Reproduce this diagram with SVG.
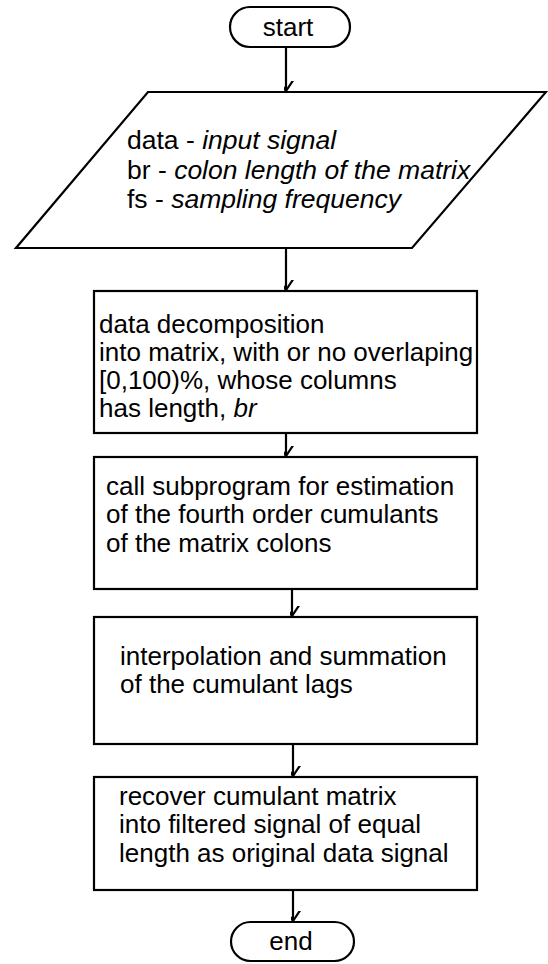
<svg xmlns="http://www.w3.org/2000/svg" width="548" height="964" viewBox="0 0 548 964">
  <defs>
    <marker id="arr" viewBox="-10 -14 20 16" refX="0" refY="0" markerWidth="20" markerHeight="16" markerUnits="userSpaceOnUse" orient="auto">
      <path d="M-8,-12 L0,0 L8,-12" fill="none" stroke="#000" stroke-width="2.2" transform="rotate(-90)"/>
    </marker>
    <style>
      .shape { fill: #fff; stroke: #000; stroke-width: 2.2; }
      .link { fill: none; stroke: #000; stroke-width: 2.2; }
      text { font-family: "Liberation Sans", Arial, sans-serif; font-size: 26px; fill: #000; }
      .c { text-anchor: middle; }
      .i { font-style: italic; }
    </style>
  </defs>
  <rect width="548" height="964" fill="#fff"/>

  <g id="connectors">
    <line class="link" x1="286" y1="47" x2="286" y2="91" marker-end="url(#arr)"/>
    <line class="link" x1="286" y1="248" x2="286" y2="290" marker-end="url(#arr)"/>
    <line class="link" x1="286" y1="433" x2="286" y2="456" marker-end="url(#arr)"/>
    <line class="link" x1="292" y1="589" x2="292" y2="616" marker-end="url(#arr)"/>
    <line class="link" x1="293" y1="744" x2="293" y2="776" marker-end="url(#arr)"/>
    <line class="link" x1="293" y1="890" x2="293" y2="921" marker-end="url(#arr)"/>
  </g>

  <g id="start">
    <rect class="shape" x="230" y="7" width="120" height="40" rx="20"/>
    <text class="c" x="288" y="36">start</text>
  </g>

  <g id="input">
    <polygon class="shape" points="148,92 546,92 412,248 16,248"/>
    <text x="127" y="149" style="font-size:26.5px">data - <tspan class="i">input signal</tspan></text>
    <text x="127" y="179" style="font-size:26.5px">br - <tspan class="i">colon length of the matrix</tspan></text>
    <text x="127" y="208" style="font-size:26.5px">fs - <tspan class="i">sampling frequency</tspan></text>
  </g>

  <g id="decompose">
    <rect class="shape" x="94" y="291" width="383" height="142"/>
    <text x="99" y="333">data decomposition</text>
    <text x="99" y="361">into matrix, with or no overlaping</text>
    <text x="99" y="389">[0,100)%, whose columns</text>
    <text x="99" y="417">has length, <tspan class="i">br</tspan></text>
  </g>

  <g id="cumulants">
    <rect class="shape" x="94" y="457" width="383" height="132"/>
    <text x="106" y="495">call subprogram for estimation</text>
    <text x="106" y="523">of the fourth order cumulants</text>
    <text x="106" y="552">of the matrix colons</text>
  </g>

  <g id="interpolate">
    <rect class="shape" x="94" y="617" width="383" height="127"/>
    <text x="120" y="665">interpolation and summation</text>
    <text x="120" y="693">of the cumulant lags</text>
  </g>

  <g id="recover">
    <rect class="shape" x="94" y="777" width="383" height="113"/>
    <text x="119" y="805">recover cumulant matrix</text>
    <text x="119" y="833">into filtered signal of equal</text>
    <text x="119" y="862">length as original data signal</text>
  </g>

  <g id="end">
    <rect class="shape" x="231" y="922" width="123" height="39" rx="19.5"/>
    <text class="c" x="291" y="950">end</text>
  </g>
</svg>
